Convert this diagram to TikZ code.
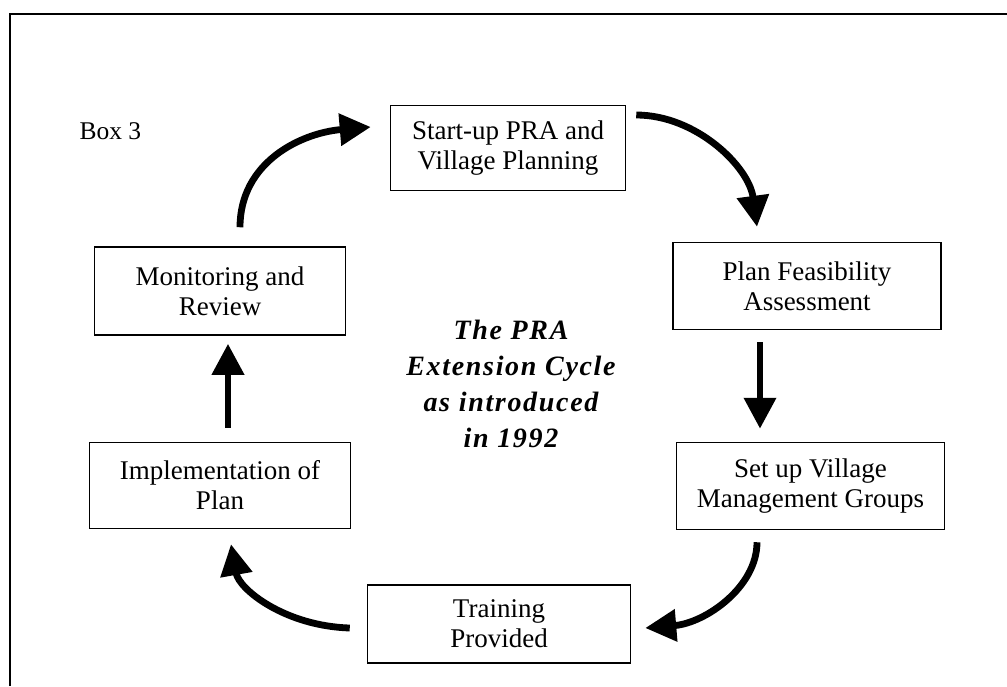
\documentclass[tikz,border=0pt]{standalone}
\usepackage{fontspec}
\setmainfont{Liberation Serif}
\usetikzlibrary{arrows.meta}

\tikzset{
  stage/.style={draw, line width=1.5pt, rectangle, inner sep=0pt, align=center,
    font=\fontsize{27}{30}\selectfont},
  flow/.style={line width=6.8pt, -{Triangle[length=31pt,width=31pt]}},
  frame/.style={line width=2pt},
}

\begin{document}
\begin{tikzpicture}[x=1pt, y=-1pt]
  \useasboundingbox (0,0) rectangle (1007,686);

  % outer frame (left and top edges)
  \draw[frame] (10,686) -- (10,14.3) -- (1007,14.3);

  \node[anchor=base west, font=\fontsize{25.5}{30}\selectfont] (boxlabel) at (76,139.3) {Box 3};

  % stages of the cycle
  \node[stage, minimum width=235pt, minimum height=85pt] (start) at (508,148)
    {Start-up PRA and\\Village Planning};
  \node[stage, minimum width=268pt, minimum height=87pt] (plan) at (807,286)
    {Plan Feasibility\\Assessment};
  \node[stage, minimum width=268pt, minimum height=87pt] (setup) at (810.5,486)
    {Set up Village\\Management Groups};
  \node[stage, minimum width=263pt, minimum height=78pt] (train) at (499,624)
    {Training\\Provided};
  \node[stage, minimum width=261pt, minimum height=86pt] (impl) at (220,485.5)
    {Implementation of\\Plan};
  \node[stage, minimum width=251pt, minimum height=88pt] (mon) at (220,291)
    {Monitoring and\\Review};

  % title in the middle
  \node[align=center, font=\fontsize{28}{35.8}\selectfont\bfseries\itshape\addfontfeature{LetterSpace=6}]
    (title) at (511,384) {The PRA\\Extension Cycle\\as introduced\\in 1992};

  % connectors
  \draw[flow] ([shift={(20,-19)}]mon.north) .. controls +(0,-65) and +(-70,6) .. ([shift={(-19,-21)}]start.west);
  \draw[flow] ([shift={(10,-33)}]start.east) .. controls +(60,0) and +(-8,-60) .. ([shift={(-50,-15)}]plan.north);
  \draw[flow] ([shift={(-47,12)}]plan.south) -- ([shift={(-47,-13)}]plan.south |- setup.north);
  \draw[flow] ([shift={(-53.5,12)}]setup.south) .. controls +(0,45) and +(60,-5) .. ([shift={(14,4)}]train.east);
  \draw[flow] ([shift={(-17,4)}]train.west) .. controls +(-65,-2) and +(8,45) .. ([shift={(11,15)}]impl.south);
  \draw[flow] ([shift={(8,-14)}]impl.north) -- ([shift={(8,8)}]mon.south);
\end{tikzpicture}
\end{document}
